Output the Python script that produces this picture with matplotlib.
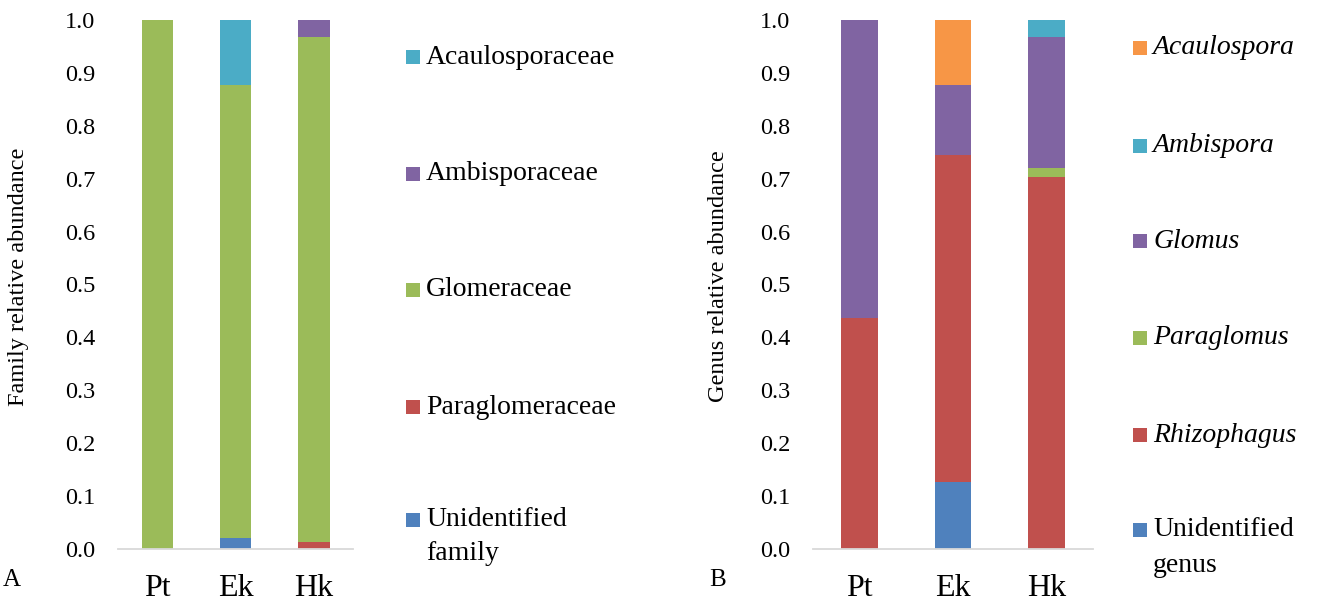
import matplotlib
matplotlib.use("Agg")
import matplotlib.pyplot as plt
from matplotlib.patches import Rectangle
import numpy as np

# ---------------- data ----------------
categories = ["Pt", "Ek", "Hk"]

family_names = ["Unidentified\nfamily", "Paraglomeraceae", "Glomeraceae",
                "Ambisporaceae", "Acaulosporaceae"]
family_unidentified = [0.0, 0.020, 0.0]
family_paraglomeraceae = [0.0, 0.0, 0.013]
family_glomeraceae = [1.0, 0.857, 0.955]
family_ambisporaceae = [0.0, 0.0, 0.032]
family_acaulosporaceae = [0.0, 0.123, 0.0]

genus_names = ["Unidentified\ngenus", "Rhizophagus", "Paraglomus",
               "Glomus", "Ambispora", "Acaulospora"]
genus_italic = [False, True, True, True, True, True]
genus_unidentified = [0.0, 0.127, 0.0]
genus_rhizophagus = [0.437, 0.618, 0.704]
genus_paraglomus = [0.0, 0.0, 0.017]
genus_glomus = [0.563, 0.133, 0.247]
genus_ambispora = [0.0, 0.0, 0.032]
genus_acaulospora = [0.0, 0.122, 0.0]

yticks = [0.0, 0.1, 0.2, 0.3, 0.4, 0.5, 0.6, 0.7, 0.8, 0.9, 1.0]

# ---------------- style ----------------
BLUE = "#4F81BD"
RED = "#C0504D"
GREEN = "#9BBB59"
PURPLE = "#8064A2"
TEAL = "#4BACC6"
ORANGE = "#F79646"

family_colors = [BLUE, RED, GREEN, PURPLE, TEAL]
genus_colors = [BLUE, RED, GREEN, PURPLE, TEAL, ORANGE]

plt.rcParams["font.family"] = ["Liberation Serif", "DejaVu Serif"]

W, H = 1317, 605
fig = plt.figure(figsize=(W / 100, H / 100), dpi=100)


def fx(px):
    return px / W


def fy(py):
    return 1 - py / H


def make_axes(left_px, right_px):
    top, bottom = 20, 549
    return fig.add_axes([fx(left_px), fy(bottom), (right_px - left_px) / W,
                         (bottom - top) / H])


def style_axes(ax):
    ax.set_xlim(-0.5, 2.5)
    ax.set_ylim(0, 1.0)
    ax.set_yticks(yticks)
    ax.set_yticklabels([f"{v:.1f}" for v in yticks])
    ax.set_xticks(range(len(categories)))
    ax.set_xticklabels(categories)
    for s in ["top", "right", "left"]:
        ax.spines[s].set_visible(False)
    ax.spines["bottom"].set_color("#D9D9D9")
    ax.spines["bottom"].set_linewidth(1.3)
    ax.tick_params(axis="y", length=0, pad=16.5, labelsize=17.5, colors="#000000")
    ax.tick_params(axis="x", length=0, pad=18, labelsize=23, colors="#000000")


def stack(ax, series, colors, width):
    x = np.arange(len(categories))
    bottom = np.zeros(len(categories))
    for vals, c in zip(series, colors):
        vals = np.asarray(vals, dtype=float)
        ax.bar(x, vals, width=width, bottom=bottom, color=c, edgecolor="none",
               zorder=2)
        bottom = bottom + vals


def legend(names, colors, italics, x_marker, y_centers, line_gap):
    for name, c, it, yc in zip(names, colors, italics, y_centers):
        fig.add_artist(Rectangle((fx(x_marker), fy(yc + 7)), 14 / W, 14 / H,
                                 transform=fig.transFigure, color=c,
                                 linewidth=0))
        for i, line in enumerate(name.split("\n")):
            fig.text(fx(x_marker + 20), fy(yc + i * line_gap), line,
                     fontsize=20, style="italic" if it else "normal",
                     va="center", ha="left", color="#000000")


# ---------------- panel A ----------------
axA = make_axes(118, 353)
stack(axA, [family_unidentified, family_paraglomeraceae, family_glomeraceae,
            family_ambisporaceae, family_acaulosporaceae], family_colors, 0.4)
style_axes(axA)
fig.text(fx(19), fy(277), "Family relative abundance", rotation=90,
         fontsize=17.5, ha="center", va="center")
fig.text(fx(12), fy(580), "A", fontsize=18, ha="center", va="center")
legend(family_names[::-1], family_colors[::-1], [False] * 5, 406,
       [57, 174, 290, 407, 520], 33)

# ---------------- panel B ----------------
axB = make_axes(813, 1093)
stack(axB, [genus_unidentified, genus_rhizophagus, genus_paraglomus,
            genus_glomus, genus_ambispora, genus_acaulospora], genus_colors, 0.39)
style_axes(axB)
fig.text(fx(719), fy(276), "Genus relative abundance", rotation=90,
         fontsize=17.5, ha="center", va="center")
fig.text(fx(718), fy(580), "B", fontsize=18, ha="center", va="center")
legend(genus_names[::-1], genus_colors[::-1], genus_italic[::-1], 1133,
       [48, 146, 241, 338, 435, 530], 35)

fig.savefig("out.png", dpi=100)
